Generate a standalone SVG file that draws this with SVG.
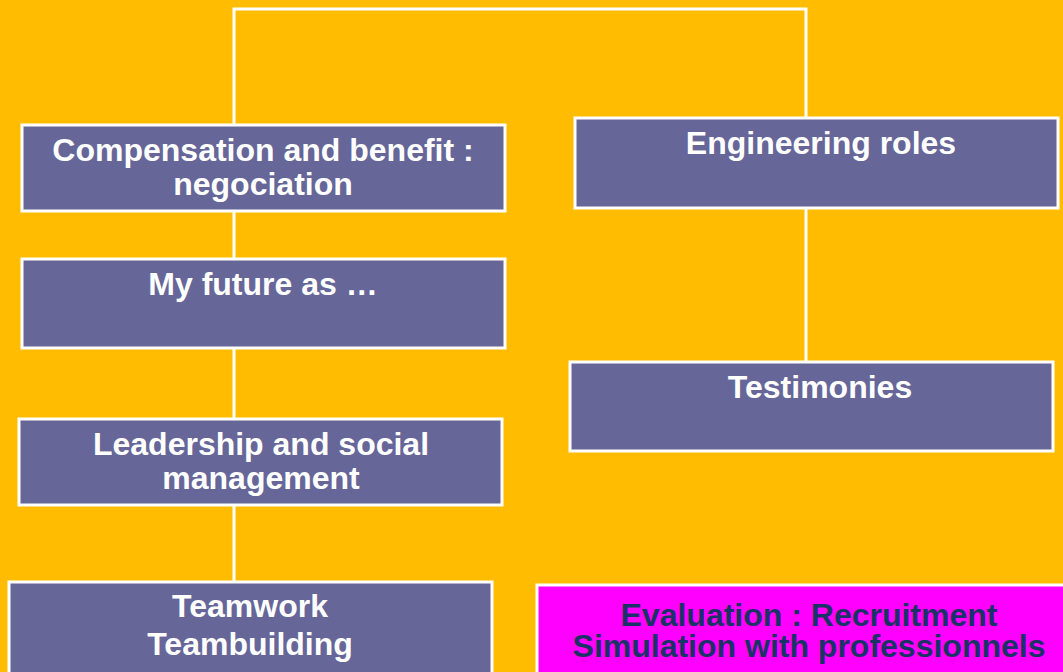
<svg xmlns="http://www.w3.org/2000/svg" width="1063" height="672" viewBox="0 0 1063 672">
<style>
.bx{fill:#666699;stroke:#FFFFFF;stroke-width:3}
.ev{fill:#FF00FF;stroke:#FFFFFF;stroke-width:3}
.t{font-family:"Liberation Sans",Arial,sans-serif;font-weight:bold;font-size:32px;fill:#FFFFFF;text-anchor:middle}
.te{font-family:"Liberation Sans",Arial,sans-serif;font-weight:bold;font-size:32px;fill:#1A3366;text-anchor:middle}
.c{fill:none;stroke:#FFFFFF;stroke-width:3}
</style>
<rect x="0" y="0" width="1063" height="672" fill="#FFBC00"/>
<g id="connectors">
<polyline class="c" points="234,582 234,9 806,9 806,118"/>
<line class="c" x1="806" y1="208" x2="806" y2="362"/>
</g>
<g id="compensation">
<rect class="bx" x="22" y="125" width="483" height="86"/>
<text class="t" x="263" y="161">Compensation and benefit :</text>
<text class="t" x="263" y="195">negociation</text>
</g>
<g id="future">
<rect class="bx" x="22" y="259" width="483" height="89"/>
<text class="t" x="263" y="295">My future as …</text>
</g>
<g id="leadership">
<rect class="bx" x="19" y="419" width="483" height="86"/>
<text class="t" x="261" y="455">Leadership and social</text>
<text class="t" x="261" y="489">management</text>
</g>
<g id="teamwork">
<rect class="bx" x="9" y="582" width="483" height="100"/>
<text class="t" x="250" y="617">Teamwork</text>
<text class="t" x="250" y="655">Teambuilding</text>
</g>
<g id="engineering">
<rect class="bx" x="575" y="118" width="483" height="90"/>
<text class="t" x="821" y="154">Engineering roles</text>
</g>
<g id="testimonies">
<rect class="bx" x="570" y="362" width="483" height="89"/>
<text class="t" x="820" y="398">Testimonies</text>
</g>
<g id="evaluation">
<rect class="ev" x="537" y="585" width="545" height="100"/>
<text class="te" x="809" y="626">Evaluation : Recruitment</text>
<text class="te" x="809" y="657">Simulation with professionnels</text>
</g>
</svg>
